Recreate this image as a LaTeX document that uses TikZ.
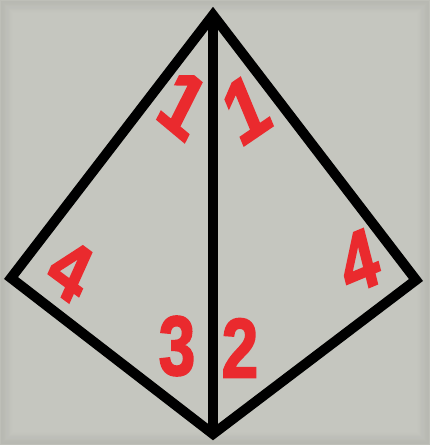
\documentclass[tikz,border=0pt]{standalone}
\usepackage{fontspec}
\setmainfont{Liberation Sans}
\newfontfamily\numfont{Liberation Sans}[BoldFeatures={FakeBold=2.5}]
\begin{document}
\begin{tikzpicture}[x=1pt,y=-1pt,
  edge/.style={line width=10pt,line join=miter,miter limit=10,black},
  num/.style={text=numred,font=\fontsize{84}{84}\selectfont\numfont\bfseries,inner sep=0pt,xscale=0.78},
  bignum/.style={num,font=\fontsize{90}{90}\selectfont\numfont\bfseries}]
\definecolor{bg}{HTML}{C5C6BF}
\definecolor{numred}{HTML}{EA2A2E}
\useasboundingbox (0,0) rectangle (430,445);
\fill[bg] (0,0) rectangle (430,445);
\foreach \i in {0,...,11}{
  \draw[black,opacity={0.035*(12-\i)/12},line width=1.6pt] (\i+0.8,\i+0.8) rectangle (430-\i-0.8,445-\i-0.8);
}
\coordinate (T) at (213,15);
\coordinate (L) at (11,278);
\coordinate (R) at (416,280);
\coordinate (B) at (213,434);
\draw[edge] (T) -- (L) -- (B) -- (R) -- cycle;
\draw[edge] (T) -- (B);
\node[bignum,rotate=-33] (n1l) at (183,104) {1};
\node[bignum,rotate=28] (n1r) at (246,109) {1};
\node[num,rotate=-30] (n4l) at (70,270) {4};
\node[num,rotate=18] (n4r) at (359,261) {4};
\node[num] (n3) at (177,346) {3};
\node[num] (n2) at (240,348) {2};
\end{tikzpicture}
\end{document}
